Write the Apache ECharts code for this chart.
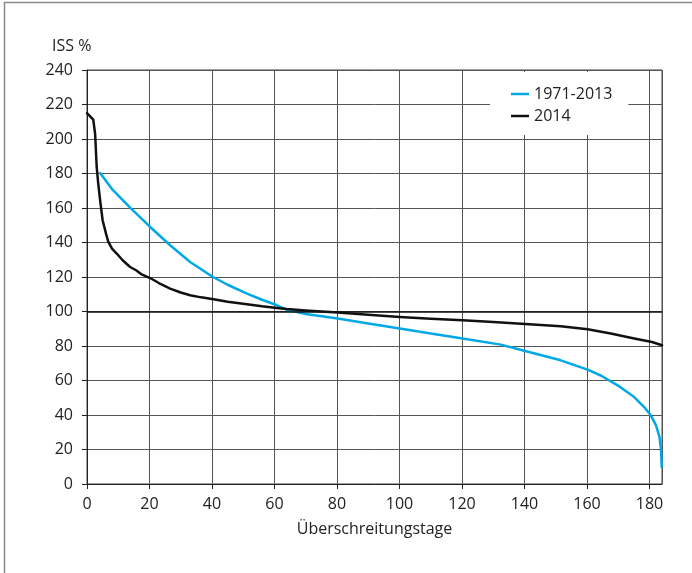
<!DOCTYPE html>
<html>
<head>
<meta charset="utf-8">
<script src="https://cdn.jsdelivr.net/npm/echarts@6/dist/echarts.min.js"></script>
<style>html,body{margin:0;padding:0;background:#fff}#c{width:692px;height:573px}</style>
</head>
<body>
<div id="c"></div>
<script>
var seriesNames = ['1971-2013', '2014'];
var xTicks = [0, 20, 40, 60, 80, 100, 120, 140, 160, 180];
var yTicks = [0, 20, 40, 60, 80, 100, 120, 140, 160, 180, 200, 220, 240];

var histDays = [4.2, 8, 13.8, 20.2, 26.6, 33, 40.3, 45, 51.2, 56, 60.8, 64, 70, 80.2, 90, 100.1, 110, 120.2, 132.4, 140.2, 151.6, 160.2, 164.4, 169.8, 175.1, 178.3, 180.4, 182.1, 183.2, 183.7, 183.9];
var histISS = [180.3, 171, 160.2, 149, 138.4, 128.7, 120, 115.5, 110.4, 106.8, 103.6, 101, 98.5, 95.9, 93, 90.1, 87.2, 84.3, 80.8, 77.1, 71.7, 66.3, 62.9, 57.2, 50.4, 44.6, 39.8, 34, 27.2, 19.3, 9.9];

var y2014Days = [0, 2, 2.6, 3.1, 3.6, 4.3, 5.0, 6.1, 6.8, 8, 9.5, 11.4, 13.8, 15.7, 17.5, 20.2, 23, 26.6, 30, 33, 36.5, 40.5, 45, 51.2, 56, 60.8, 64, 70, 80.2, 90, 100.1, 110, 120.2, 130, 140.2, 151.6, 160.2, 167.6, 175.1, 180.8, 184];
var y2014ISS = [215, 211.2, 203, 183.8, 174, 163, 152.9, 145, 140.5, 136.5, 133.6, 129.7, 125.8, 123.9, 121.5, 119.4, 116.5, 113.3, 111, 109.4, 108.2, 107.1, 105.6, 104.2, 103, 102, 101.4, 100.6, 99.4, 98.1, 96.8, 95.8, 94.9, 93.9, 92.8, 91.5, 89.7, 87.2, 84.3, 82.3, 80.4];

function pairs(xs, ys) { return xs.map(function (x, i) { return [x, ys[i]]; }); }

var font = '"Open Sans", "Noto Sans", sans-serif';
var chart = echarts.init(document.getElementById('c'), null, {renderer: 'canvas'});
chart.setOption({
  animation: false,
  backgroundColor: '#fff',
  textStyle: {fontFamily: font},
  graphic: [
    {type: 'rect', shape: {x: 4.5, y: 2.5, width: 720, height: 620}, style: {fill: 'none', stroke: '#8a8a8a', lineWidth: 1.5}, z: 0},
    {type: 'text', left: 52, top: 38, style: {text: 'ISS %', fontSize: 16, fontFamily: font, fill: '#222'}}
  ],
  grid: {left: 87, right: 30, top: 70, bottom: 89, show: true, borderColor: '#444', borderWidth: 1},
  legend: {
    orient: 'vertical', left: 490, top: 72,
    backgroundColor: '#fff', padding: [13, 16, 10, 21], itemGap: 4,
    icon: 'rect', itemWidth: 18, itemHeight: 2.5,
    textStyle: {fontSize: 16, color: '#222', fontFamily: font, lineHeight: 18},
    data: seriesNames
  },
  xAxis: {
    type: 'value', min: 0, max: 184, interval: 20,
    name: 'Überschreitungstage', nameLocation: 'middle', nameGap: 37,
    nameTextStyle: {fontSize: 16, color: '#222', fontFamily: font},
    axisLine: {show: true, lineStyle: {color: '#222', width: 1}},
    axisTick: {show: true, length: 5, lineStyle: {color: '#222'}},
    axisLabel: {fontSize: 16, color: '#222', margin: 12, showMaxLabel: false,
      formatter: function (v) { return xTicks.indexOf(v) >= 0 ? String(v) : ''; }},
    splitLine: {show: true, lineStyle: {color: '#555', width: 1}}
  },
  yAxis: {
    type: 'value', min: 0, max: 240, interval: 20,
    axisLine: {show: true, lineStyle: {color: '#222', width: 1}},
    axisTick: {show: true, length: 5, lineStyle: {color: '#222'}},
    axisLabel: {fontSize: 16, color: '#222', margin: 14,
      formatter: function (v) { return yTicks.indexOf(v) >= 0 ? String(v) : ''; }},
    splitLine: {show: true, lineStyle: {color: '#555', width: 1}}
  },
  series: [
    {
      name: seriesNames[0], type: 'line', data: pairs(histDays, histISS),
      showSymbol: false, symbol: 'none', smooth: false,
      lineStyle: {color: '#00a8e6', width: 2.5, join: 'round', cap: 'round'}, itemStyle: {color: '#00a8e6'},
      markLine: {silent: true, symbol: 'none', label: {show: false},
        lineStyle: {color: '#111', width: 1.6, type: 'solid'}, data: [{yAxis: 100}]},
      z: 3
    },
    {
      name: seriesNames[1], type: 'line', data: pairs(y2014Days, y2014ISS),
      showSymbol: false, symbol: 'none', smooth: false,
      lineStyle: {color: '#111', width: 2.5, join: 'round', cap: 'round'}, itemStyle: {color: '#111'},
      z: 4
    }
  ]
});
</script>
</body>
</html>
